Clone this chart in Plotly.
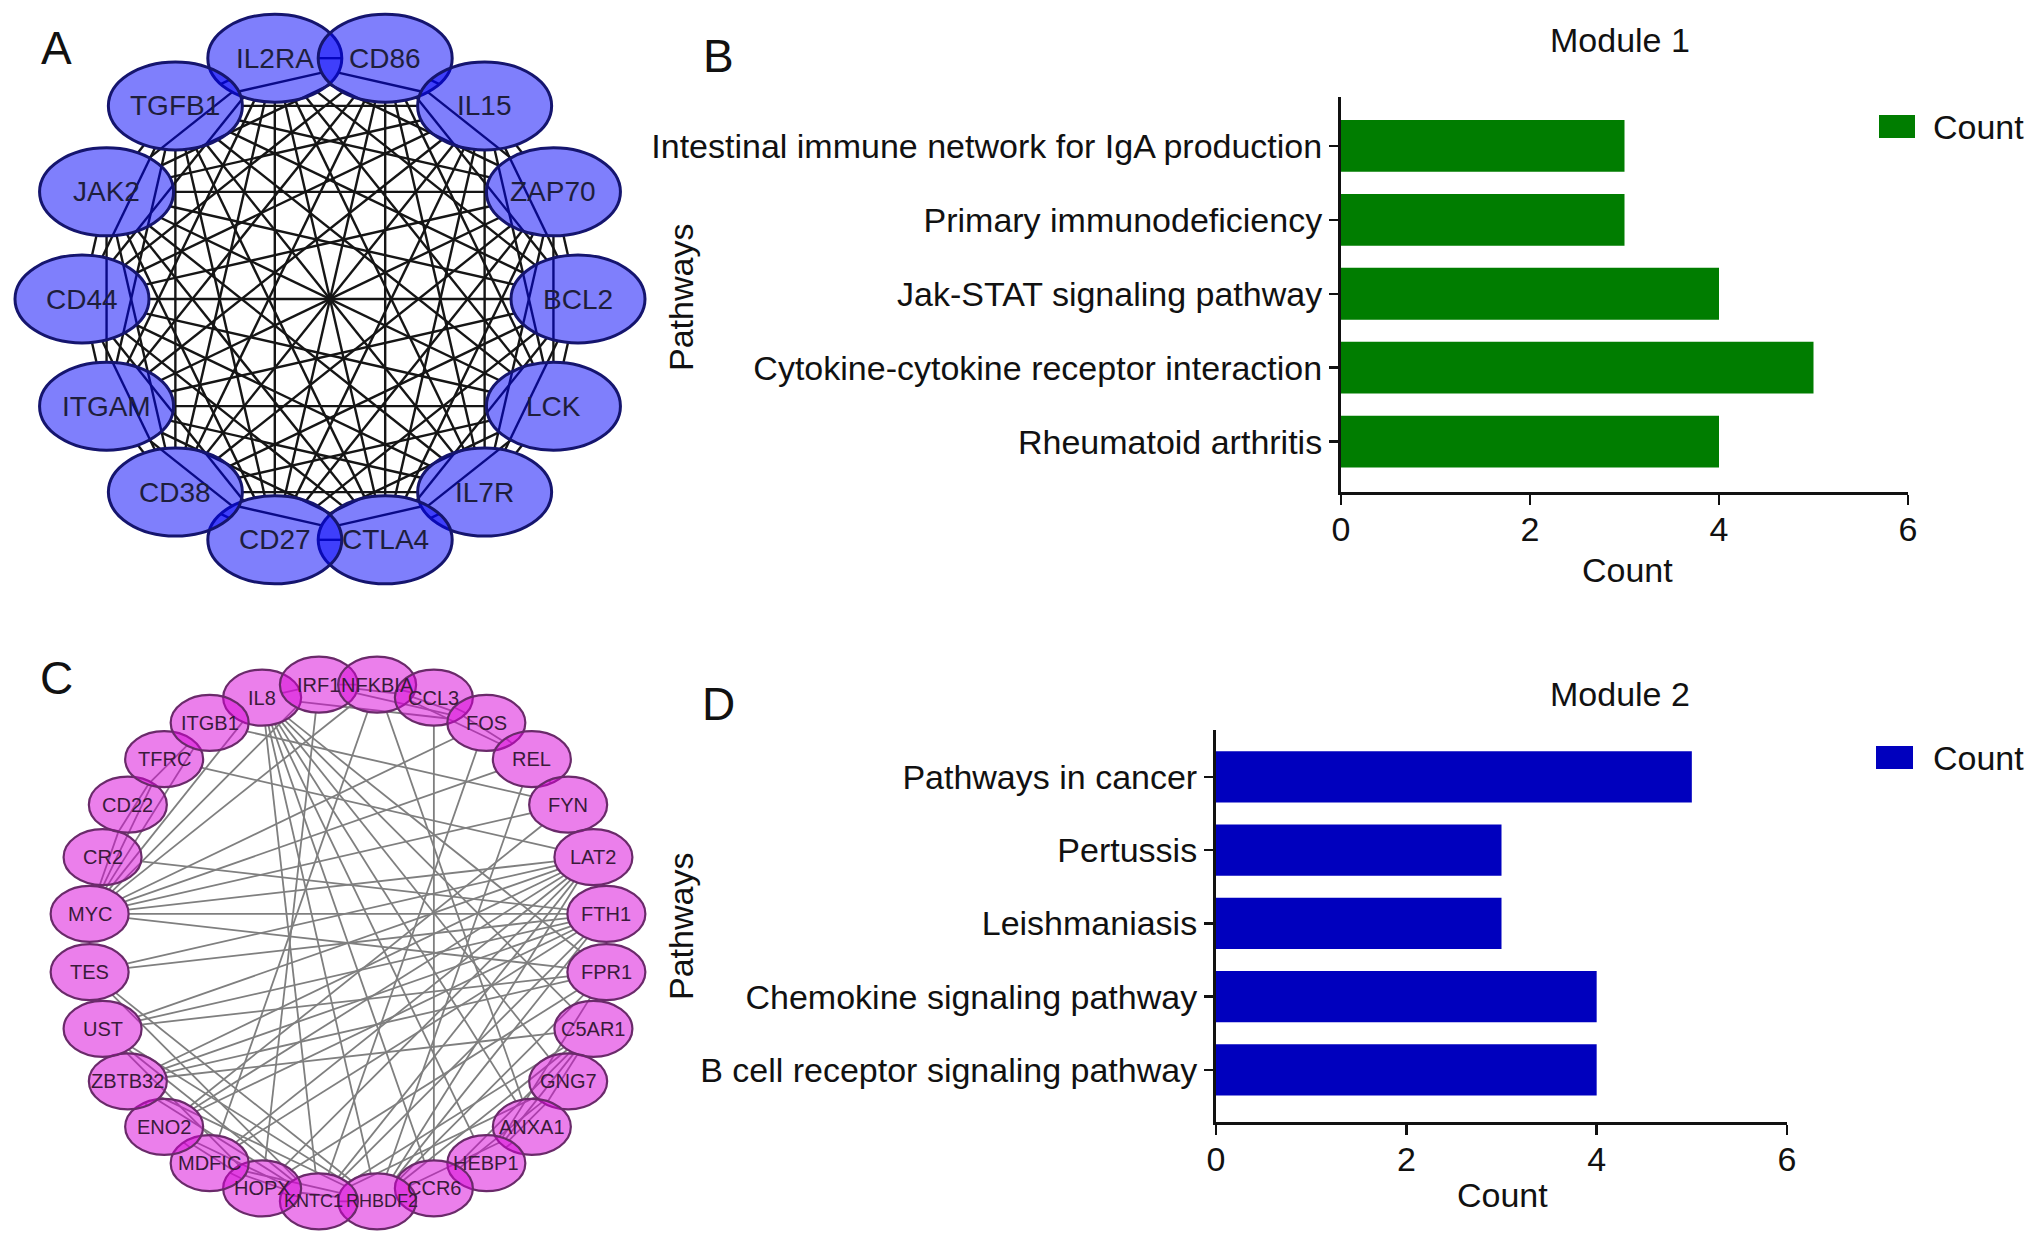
import math
import plotly.graph_objects as go

W, H = 2032, 1244
FONT = "Liberation Sans, Arial, Helvetica, sans-serif"

# ---------------- data ----------------
# Module 1 network (A): genes clockwise from the upper-left of the top pair
module1_genes = ["IL2RA", "CD86", "IL15", "ZAP70", "BCL2", "LCK", "IL7R",
                 "CTLA4", "CD27", "CD38", "ITGAM", "CD44", "JAK2", "TGFB1"]
# every gene of module 1 is linked to every other gene
module1_links = {
    "IL2RA": ["CD86", "IL15", "ZAP70", "BCL2", "LCK", "IL7R", "CTLA4", "CD27", "CD38", "ITGAM", "CD44", "JAK2", "TGFB1"],
    "CD86": ["IL15", "ZAP70", "BCL2", "LCK", "IL7R", "CTLA4", "CD27", "CD38", "ITGAM", "CD44", "JAK2", "TGFB1"],
    "IL15": ["ZAP70", "BCL2", "LCK", "IL7R", "CTLA4", "CD27", "CD38", "ITGAM", "CD44", "JAK2", "TGFB1"],
    "ZAP70": ["BCL2", "LCK", "IL7R", "CTLA4", "CD27", "CD38", "ITGAM", "CD44", "JAK2", "TGFB1"],
    "BCL2": ["LCK", "IL7R", "CTLA4", "CD27", "CD38", "ITGAM", "CD44", "JAK2", "TGFB1"],
    "LCK": ["IL7R", "CTLA4", "CD27", "CD38", "ITGAM", "CD44", "JAK2", "TGFB1"],
    "IL7R": ["CTLA4", "CD27", "CD38", "ITGAM", "CD44", "JAK2", "TGFB1"],
    "CTLA4": ["CD27", "CD38", "ITGAM", "CD44", "JAK2", "TGFB1"],
    "CD27": ["CD38", "ITGAM", "CD44", "JAK2", "TGFB1"],
    "CD38": ["ITGAM", "CD44", "JAK2", "TGFB1"],
    "ITGAM": ["CD44", "JAK2", "TGFB1"],
    "CD44": ["JAK2", "TGFB1"],
    "JAK2": ["TGFB1"],
}

# Module 2 network (C): genes clockwise starting at IL8
module2_genes = ["IL8", "IRF1", "NFKBIA", "CCL3", "FOS", "REL", "FYN", "LAT2",
                 "FTH1", "FPR1", "C5AR1", "GNG7", "ANXA1", "HEBP1", "CCR6",
                 "RHBDF2", "KNTC1", "HOPX", "MDFIC", "ENO2", "ZBTB32", "UST",
                 "TES", "MYC", "CR2", "CD22", "TFRC", "ITGB1"]
module2_edges = [
    ("IL8", "IRF1"), ("IRF1", "NFKBIA"), ("IRF1", "CCL3"), ("NFKBIA", "CCL3"),
    ("NFKBIA", "FOS"), ("IRF1", "FOS"), ("CCL3", "FOS"), ("CCL3", "REL"),
    ("FOS", "REL"), ("NFKBIA", "REL"), ("REL", "FYN"),
    ("MYC", "CR2"), ("MYC", "CD22"), ("MYC", "TFRC"), ("MYC", "ITGB1"),
    ("CR2", "TFRC"), ("CD22", "ITGB1"),
    ("IL8", "KNTC1"), ("IL8", "RHBDF2"), ("IL8", "CCR6"), ("IL8", "HEBP1"),
    ("IL8", "ANXA1"), ("IL8", "GNG7"), ("IL8", "C5AR1"), ("IL8", "FPR1"),
    ("IL8", "FOS"), ("IL8", "MYC"),
    ("ITGB1", "FYN"), ("TFRC", "LAT2"),
    ("IRF1", "MYC"), ("IRF1", "HOPX"), ("NFKBIA", "MYC"), ("NFKBIA", "ANXA1"),
    ("NFKBIA", "MDFIC"), ("CCL3", "CCR6"), ("FOS", "MYC"), ("FOS", "KNTC1"),
    ("REL", "MYC"), ("REL", "RHBDF2"), ("FYN", "MYC"), ("FYN", "ENO2"),
    ("LAT2", "MYC"), ("LAT2", "TES"), ("LAT2", "UST"), ("LAT2", "ZBTB32"),
    ("LAT2", "ENO2"), ("LAT2", "MDFIC"), ("LAT2", "HOPX"), ("LAT2", "KNTC1"),
    ("LAT2", "RHBDF2"),
    ("FTH1", "MYC"), ("FTH1", "TES"), ("FTH1", "UST"), ("FTH1", "ZBTB32"),
    ("FTH1", "ENO2"), ("FTH1", "MDFIC"), ("FTH1", "KNTC1"), ("FTH1", "RHBDF2"),
    ("FTH1", "CR2"),
    ("FPR1", "MYC"), ("FPR1", "UST"), ("FPR1", "ZBTB32"), ("FPR1", "HOPX"),
    ("FPR1", "RHBDF2"), ("FPR1", "HEBP1"),
    ("C5AR1", "GNG7"), ("C5AR1", "ANXA1"), ("C5AR1", "HEBP1"), ("C5AR1", "CCR6"),
    ("C5AR1", "RHBDF2"), ("C5AR1", "KNTC1"), ("C5AR1", "ZBTB32"),
    ("GNG7", "HEBP1"), ("GNG7", "CCR6"), ("GNG7", "KNTC1"),
    ("ANXA1", "HEBP1"), ("ANXA1", "RHBDF2"),
    ("TES", "UST"), ("TES", "KNTC1"), ("TES", "RHBDF2"),
    ("UST", "ZBTB32"), ("UST", "HOPX"), ("UST", "KNTC1"), ("UST", "RHBDF2"),
    ("ZBTB32", "ENO2"), ("ZBTB32", "KNTC1"), ("ZBTB32", "RHBDF2"),
    ("ENO2", "MDFIC"), ("ENO2", "KNTC1"), ("ENO2", "HOPX"),
    ("MDFIC", "HOPX"), ("MDFIC", "KNTC1"), ("MDFIC", "RHBDF2"),
    ("HOPX", "KNTC1"), ("HOPX", "RHBDF2"), ("KNTC1", "RHBDF2"),
]

# Enrichment bar charts (B, D)
m1_pathways = ["Intestinal immune network for IgA production",
               "Primary immunodeficiency",
               "Jak-STAT signaling pathway",
               "Cytokine-cytokine receptor interaction",
               "Rheumatoid arthritis"]
m1_counts = [3, 3, 4, 5, 4]
m2_pathways = ["Pathways in cancer",
               "Pertussis",
               "Leishmaniasis",
               "Chemokine signaling pathway",
               "B cell receptor signaling pathway"]
m2_counts = [5, 3, 3, 4, 4]
count_ticks = [0, 2, 4, 6]


# ---------------- layout helpers (page pixel space) ----------------
def ring(names, cx, cy, rx, ry, start_deg):
    step = 360.0 / len(names)
    pos = {}
    for k, n in enumerate(names):
        t = math.radians(start_deg - k * step)
        pos[n] = (cx + rx * math.cos(t), cy - ry * math.sin(t))
    return pos


def edge_xy(edges, pos, a_half, b_half):
    """edge segments clipped at the elliptical node borders"""
    xs, ys = [], []
    for a, b in edges:
        (x1, y1), (x2, y2) = pos[a], pos[b]
        dx, dy = x2 - x1, y2 - y1
        L = math.hypot(dx, dy)
        ux, uy = dx / L, dy / L
        t = 1.0 / math.sqrt((ux / a_half) ** 2 + (uy / b_half) ** 2)
        xs += [x1 + ux * t, x2 - ux * t, None]
        ys += [y1 + uy * t, y2 - uy * t, None]
    return xs, ys


NA_W, NA_H = 67, 44   # half sizes of module 1 nodes
NC_W, NC_H = 39, 28   # half sizes of module 2 nodes

posA = ring(module1_genes, 330, 299, 248, 247, 90 + 180 / 14)
posC = ring(module2_genes, 348, 943, 260, 260, 90 + 180 / 28 + 360 / 28)

edges_a = [(a, b) for a, lst in module1_links.items() for b in lst]
xa, ya = edge_xy(edges_a, posA, NA_W, NA_H)
xc, yc = edge_xy(module2_edges, posC, NC_W, NC_H)

fig = go.Figure()
fig.add_trace(go.Scatter(x=xa, y=ya, mode="lines", xaxis="x", yaxis="y",
                         line=dict(color="#151515", width=2.4),
                         hoverinfo="skip", showlegend=False))
fig.add_trace(go.Scatter(x=xc, y=yc, mode="lines", xaxis="x", yaxis="y",
                         line=dict(color="#7f7f7f", width=1.8),
                         hoverinfo="skip", showlegend=False))
fig.add_trace(go.Bar(x=m1_counts, y=m1_pathways, orientation="h", width=0.7,
                     marker=dict(color="#007d00", line=dict(width=0)),
                     xaxis="x2", yaxis="y2", showlegend=False, name="Count"))
fig.add_trace(go.Bar(x=m2_counts, y=m2_pathways, orientation="h", width=0.7,
                     marker=dict(color="#0000be", line=dict(width=0)),
                     xaxis="x3", yaxis="y3", showlegend=False, name="Count"))

shapes = []
annotations = []

# Module 1 nodes
for n, (x, y) in posA.items():
    shapes.append(dict(type="circle", xref="x", yref="y", layer="above",
                       x0=x - NA_W, x1=x + NA_W, y0=y - NA_H, y1=y + NA_H,
                       fillcolor="rgba(0,0,250,0.5)",
                       line=dict(color="#15156e", width=3)))
    annotations.append(dict(x=x, y=y, xref="x", yref="y", text=n, showarrow=False,
                            font=dict(family=FONT, size=28, color="#1e1e3c")))
# Module 2 nodes
label_nudge = {"KNTC1": -5, "RHBDF2": 5}
for n, (x, y) in posC.items():
    shapes.append(dict(type="circle", xref="x", yref="y", layer="above",
                       x0=x - NC_W, x1=x + NC_W, y0=y - NC_H, y1=y + NC_H,
                       fillcolor="rgba(215,0,215,0.5)",
                       line=dict(color="#6a2a6a", width=2.2)))
    annotations.append(dict(x=x + label_nudge.get(n, 0), y=y, xref="x", yref="y",
                            text=n, showarrow=False,
                            font=dict(family=FONT, size=20 if n not in label_nudge else 18,
                                      color="#3a1a3a")))

# legends (drawn in page pixel space)
shapes.append(dict(type="rect", xref="x", yref="y", x0=1879, x1=1915, y0=115, y1=138,
                   fillcolor="#007d00", line=dict(width=0)))
shapes.append(dict(type="rect", xref="x", yref="y", x0=1876, x1=1913, y0=746, y1=769,
                   fillcolor="#0000be", line=dict(width=0)))


def txt(x, y, s, size=34, angle=0, xanchor="center"):
    annotations.append(dict(x=x, y=y, xref="x", yref="y", text=s, showarrow=False,
                            textangle=angle, xanchor=xanchor, yanchor="middle",
                            font=dict(family=FONT, size=size, color="#111111")))


txt(1931, 127, "Count", xanchor="left")
txt(1931, 758, "Count", xanchor="left")
# panel letters
txt(56, 48, "A", 46)
txt(718, 56, "B", 46)
txt(56, 678, "C", 46)
txt(718, 704, "D", 46)
# titles
txt(1620, 40, "Module 1")
txt(1620, 694, "Module 2")
# axis titles
txt(1627, 570, "Count")
txt(1502, 1195, "Count")
txt(681, 298, "Pathways", angle=-90)
txt(681, 927, "Pathways", angle=-90)


def xdom(p0, p1):
    return [p0 / W, p1 / W]


def ydom(top, bottom):
    return [1 - bottom / H, 1 - top / H]


bar_x = dict(range=[0, 6], tickvals=count_ticks, showline=True, linecolor="#111111",
             linewidth=3, ticks="outside", ticklen=10, tickwidth=2.5, tickcolor="#111111",
             showgrid=False, zeroline=False, fixedrange=True, ticklabelstandoff=-5,
             tickfont=dict(family=FONT, size=34, color="#111111"))
bar_y = dict(type="category", categoryorder="array", showline=True, linecolor="#111111",
             linewidth=3, ticks="outside", ticklen=9, tickwidth=2.5, tickcolor="#111111",
             showgrid=False, zeroline=False, fixedrange=True,
             tickfont=dict(family=FONT, size=34, color="#111111"))

fig.update_layout(
    width=W, height=H,
    margin=dict(l=0, r=0, t=0, b=0, autoexpand=False),
    paper_bgcolor="white", plot_bgcolor="rgba(0,0,0,0)",
    font=dict(family=FONT),
    hovermode=False,
    xaxis=dict(domain=[0, 1], range=[0, W], visible=False, fixedrange=True),
    yaxis=dict(domain=[0, 1], range=[H, 0], visible=False, fixedrange=True),
    xaxis2=dict(bar_x, domain=xdom(1341, 1908), anchor="y2"),
    yaxis2=dict(bar_y, domain=ydom(97, 492), anchor="x2",
                categoryarray=m1_pathways[::-1], range=[-0.68, 4.66]),
    xaxis3=dict(bar_x, domain=xdom(1216, 1787), anchor="y3"),
    yaxis3=dict(bar_y, domain=ydom(730, 1122), anchor="x3",
                categoryarray=m2_pathways[::-1], range=[-0.71, 4.64]),
    shapes=shapes,
    annotations=annotations,
    showlegend=False,
)

# remove the browser's default 8px page margin so figure pixels equal page pixels
fig.write_html("out.html",
               config={"displayModeBar": False, "staticPlot": True},
               post_script="document.body.style.margin='0';document.body.style.overflow='hidden';")
